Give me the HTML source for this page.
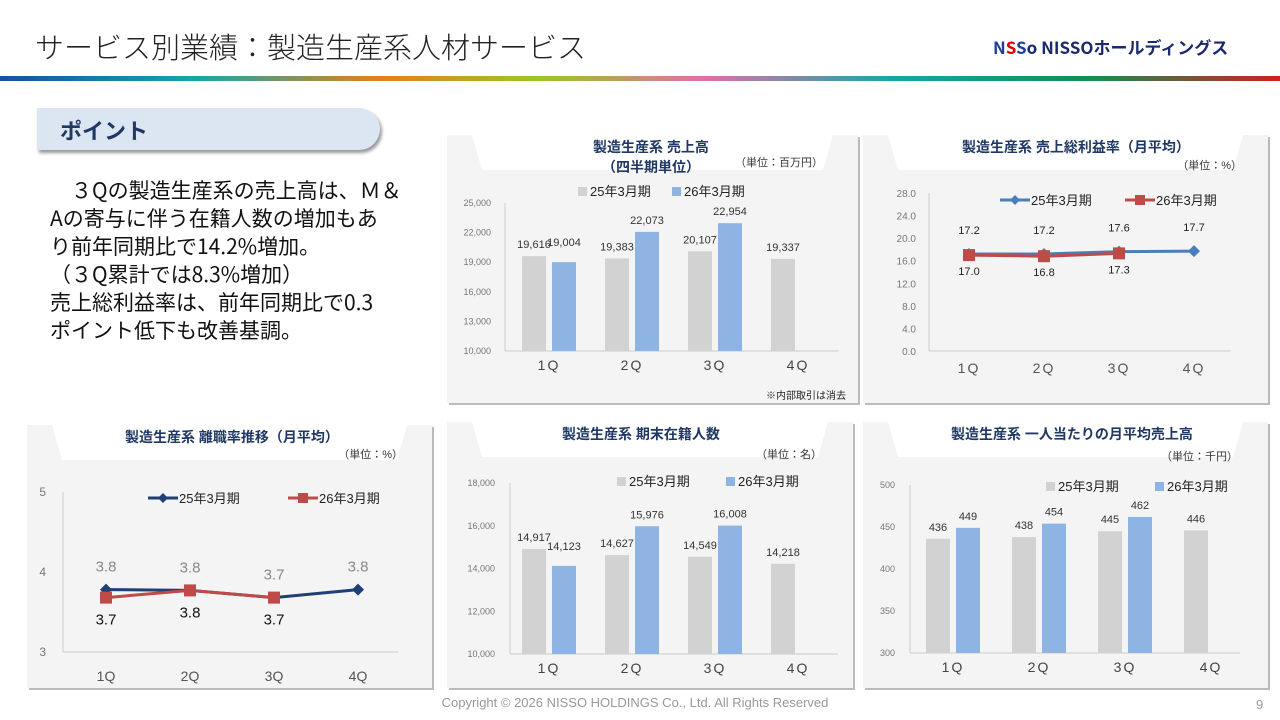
<!DOCTYPE html>
<html><head><meta charset="utf-8">
<style>
body{margin:0;width:1280px;height:720px;position:relative;background:#fff;font-family:"Liberation Sans","Noto Sans CJK JP",sans-serif;overflow:hidden}
.abs{position:absolute}
</style></head><body>
<div class="abs" style="left:35px;top:25px;font-size:29px;color:#222;font-family:'Noto Sans CJK JP',sans-serif;font-weight:300">サービス別業績：製造生産系人材サービス</div>
<div class="abs" style="left:993px;top:34px;font-size:17px;font-weight:bold;color:#1a2a6c;font-family:'Noto Sans CJK JP',sans-serif"><span style="color:#1a3f9c">N<span style="color:#d00">S</span>S</span>o NISSOホールディングス</div>
<div class="abs" style="left:0;top:76px;width:1280px;height:5px;background:linear-gradient(90deg,#1a4fa0,#10a8a8 15%,#e8801a 30%,#9ac820 42%,#e070a8 55%,#10a8a8 70%,#109050 85%,#d02020)"></div>
<div class="abs" style="left:37px;top:108px;width:343px;height:42px;background:#dce6f2;border-radius:0 22px 22px 0;box-shadow:2px 3px 3px #999"></div>
<div class="abs" style="left:60px;top:114px;font-size:22px;font-weight:bold;color:#1f3864;font-family:'Noto Sans CJK JP',sans-serif">ポイント</div>
<div class="abs" style="left:50px;top:176px;font-size:21px;line-height:28px;color:#111;font-family:'Noto Sans CJK JP',sans-serif;white-space:pre">　３Qの製造生産系の売上高は、Ｍ＆
Aの寄与に伴う在籍人数の増加もあ
り前年同期比で14.2%増加。
（３Q累計では8.3%増加）
売上総利益率は、前年同期比で0.3
ポイント低下も改善基調。</div>
<div class="abs" style="left:0;width:1270px;text-align:center;top:695px;font-size:13px;color:#999">Copyright © 2026 NISSO HOLDINGS Co., Ltd. All Rights Reserved</div>
<div class="abs" style="left:1256px;top:697px;font-size:13px;color:#999">9</div>
<svg id="s" class="abs" style="left:0;top:0" width="1280" height="720" font-family="Liberation Sans, Noto Sans CJK JP, sans-serif"></svg>
<script>
const cats=['1Q','2Q','3Q','4Q'];
const salesPrev=[19616,19383,20107,19337];
const salesCur=[19004,22073,22954];
const salesTicks=[10000,13000,16000,19000,22000,25000];
const gmPrev=[17.2,17.2,17.6,17.7];
const gmCur=[17.0,16.8,17.3];
const gmTicks=[0,4,8,12,16,20,24,28];
const turnPrev=[3.78,3.77,3.68,3.78];
const turnCur=[3.68,3.77,3.68];
const turnTicks=[3,4,5];
const staffPrev=[14917,14627,14549,14218];
const staffCur=[14123,15976,16008];
const staffTicks=[10000,12000,14000,16000,18000];
const perPrev=[436,438,445,446];
const perCur=[449,454,462];
const perTicks=[300,350,400,450,500];
const legendLabels=['25年3月期','26年3月期'];

const svg=document.getElementById('s');const NS='http://www.w3.org/2000/svg';
function el(t,a,txt){const e=document.createElementNS(NS,t);for(const k in a)e.setAttribute(k,a[k]);if(txt!==undefined)e.textContent=txt;svg.appendChild(e);return e;}
const fmt=v=>v.toLocaleString('en-US');
function panel(x,y,w,h,title,unit,ux,uy,name){
  let p=el('rect',{x:x+2,y:y+2,width:w,height:h,fill:'#bbb'});
  
  p=el('rect',{x:x,y:y,width:w,height:h,fill:'#f4f4f4'});
  
  p=el('polygon',{points:`${x+25},${y} ${x+w-25},${y} ${x+w-35},${y+35} ${x+35},${y+35}`,fill:'#fff'});
  
  title.forEach((t,i)=>{const e=el('text',{x:t[1],y:y+17+i*20,'font-size':14,'font-weight':'bold',fill:'#1f3864','text-anchor':'middle'},t[0]);
  });
  const u=el('text',{x:ux,y:uy,'font-size':11,fill:'#333','text-anchor':'end'},unit);
  
}
function barChart(o){
  const Y=v=>o.y0-(v-o.t[0])/(o.t[o.t.length-1]-o.t[0])*(o.y0-o.y1);
  o.t.forEach(t=>{const e=el('text',{x:o.tx,y:Y(t)+3,'font-size':9,fill:'#777','text-anchor':'end'},fmt(t));
   });
  let a=el('line',{x1:o.ax,y1:o.y1,x2:o.ax,y2:o.y0,stroke:'#ccc'});
  a=el('line',{x1:o.ax,y1:o.y0,x2:o.ax2,y2:o.y0,stroke:'#ccc'});
  cats.forEach((c,i)=>{const cx=o.c[0]+i*o.step;
    const e=el('text',{x:cx,y:o.y0+19,'font-size':14,fill:'#444','text-anchor':'middle','letter-spacing':'2'},c);
    
    [[o.p,'#d2d2d2',-15],[o.q,'#8eb4e3',15]].forEach(([arr,col,off],k)=>{
      if(i>=arr.length)return;const v=arr[i];
      const b=el('rect',{x:cx+off-12,y:Y(v),width:24,height:o.y0-Y(v),fill:col});
      
      const l=el('text',{x:cx+off,y:Y(v)-8-(o.lift&&o.lift[k]&&o.lift[k][i]||0),'font-size':11,fill:'#333','text-anchor':'middle'},fmt(v));
      
    });
  });
  [[o.lx[0],'#d2d2d2'],[o.lx[1],'#8eb4e3']].forEach(([x,col],k)=>{
    const s=el('rect',{x:x,y:o.ly-9,width:9,height:9,fill:col});
    const t=el('text',{x:x+12,y:o.ly,'font-size':13,fill:'#222'},legendLabels[k]);
  });
}
function lineChart(o){
  const Y=v=>o.y0-(v-o.t[0])/(o.t[o.t.length-1]-o.t[0])*(o.y0-o.y1);
  o.t.forEach(t=>{const e=el('text',{x:o.tx,y:Y(t)+4,'font-size':o.tf,fill:'#777','text-anchor':'end'},o.dec?t.toFixed(1):String(t));
   });
  let a=el('line',{x1:o.ax,y1:o.y1,x2:o.ax,y2:o.y0,stroke:'#ccc'});
  a=el('line',{x1:o.ax,y1:o.y0,x2:o.ax2,y2:o.y0,stroke:'#ccc'});
  const X=i=>o.c[0]+i*o.step;
  cats.forEach((c,i)=>{const e=el('text',{x:X(i),y:o.y0+o.xo,'font-size':14,fill:'#555','text-anchor':'middle','letter-spacing':o.ls},c);
    });
  [[o.p,o.col[0],'diamond'],[o.q,o.col[1],'square']].forEach(([arr,col,m],k)=>{
    const ln=el('polyline',{points:arr.map((v,i)=>X(i)+','+Y(v)).join(' '),fill:'none',stroke:col,'stroke-width':3});
    
    arr.forEach((v,i)=>{
      const x=X(i),y=Y(v);let mk;
      if(m=='diamond')mk=el('polygon',{points:`${x},${y-6} ${x+6},${y} ${x},${y+6} ${x-6},${y}`,fill:col});
      else mk=el('rect',{x:x-6,y:y-6,width:12,height:12,fill:col});
      
      const l=el('text',{x:x,y:k?y+o.lb:y-o.la,'font-size':o.vf,fill:k?o.vc[1]:o.vc[0],'text-anchor':'middle'},v.toFixed(1));
      
    });
    const lx=o.lx[k];
    const lg=el('line',{x1:lx,y1:o.ly-5,x2:lx+30,y2:o.ly-5,stroke:col,'stroke-width':3});
    let mm=m=='diamond'?el('polygon',{points:`${lx+15},${o.ly-10} ${lx+20},${o.ly-5} ${lx+15},${o.ly} ${lx+10},${o.ly-5}`,fill:col}):el('rect',{x:lx+10,y:o.ly-10,width:10,height:10,fill:col});
    
    const t=el('text',{x:lx+31,y:o.ly,'font-size':13,fill:'#222'},legendLabels[k]);
  });
}
panel(447,135,411,268,[['製造生産系 売上高',651],['（四半期単位）',651]],'（単位：百万円）',823,166,'sales-chart');
barChart({p:salesPrev,q:salesCur,t:salesTicks,y0:351,y1:203,tx:491,ax:505,ax2:838,c:[549],step:83,lx:[578,672],ly:196,lift:[[0,0,0,0],[8,0,0]]});
let n=el('text',{x:846,y:399,'font-size':10,fill:'#222','text-anchor':'end'},'※内部取引は消去');
panel(863,135,405,268,[['製造生産系 売上総利益率（月平均）',1076]],'（単位：%）',1242,169,'gross-margin-chart');
lineChart({p:gmPrev,q:gmCur,t:gmTicks,y0:351,y1:193,tx:916,ax:929,ax2:1230,c:[969],step:75,col:['#4a7ebb','#be4b48'],vc:['#222','#222'],vf:11,tf:10,dec:true,lx:[1000,1125],ly:205,la:20,lb:20,xo:22,ls:'2'});
panel(27,425,405,263,[['製造生産系 離職率推移（月平均）',232]],'（単位：%）',403,458,'turnover-chart');
lineChart({p:turnPrev,q:turnCur,t:turnTicks,y0:652,y1:492,tx:46,ax:63,ax2:398,c:[106],step:84,col:['#1f3f77','#be4b48'],vc:['#888','#111'],vf:15,tf:12,dec:false,lx:[148,288],ly:503,la:18,lb:27,xo:29,ls:'0'});
panel(447,422,406,266,[['製造生産系 期末在籍人数',641]],'（単位：名）',822,458,'headcount-chart');
barChart({p:staffPrev,q:staffCur,t:staffTicks,y0:654,y1:483,tx:495,ax:510,ax2:838,c:[549],step:83,lx:[617,726],ly:486,lift:[[0,0,0,0],[8,0,0]]});
panel(863,422,405,266,[['製造生産系 一人当たりの月平均売上高',1072]],'（単位：千円）',1238,460,'revenue-per-person-chart');
barChart({p:perPrev,q:perCur,t:perTicks,y0:653,y1:485,tx:895,ax:910,ax2:1240,c:[953],step:86,lx:[1046,1155],ly:491});
</script>
</body></html>
